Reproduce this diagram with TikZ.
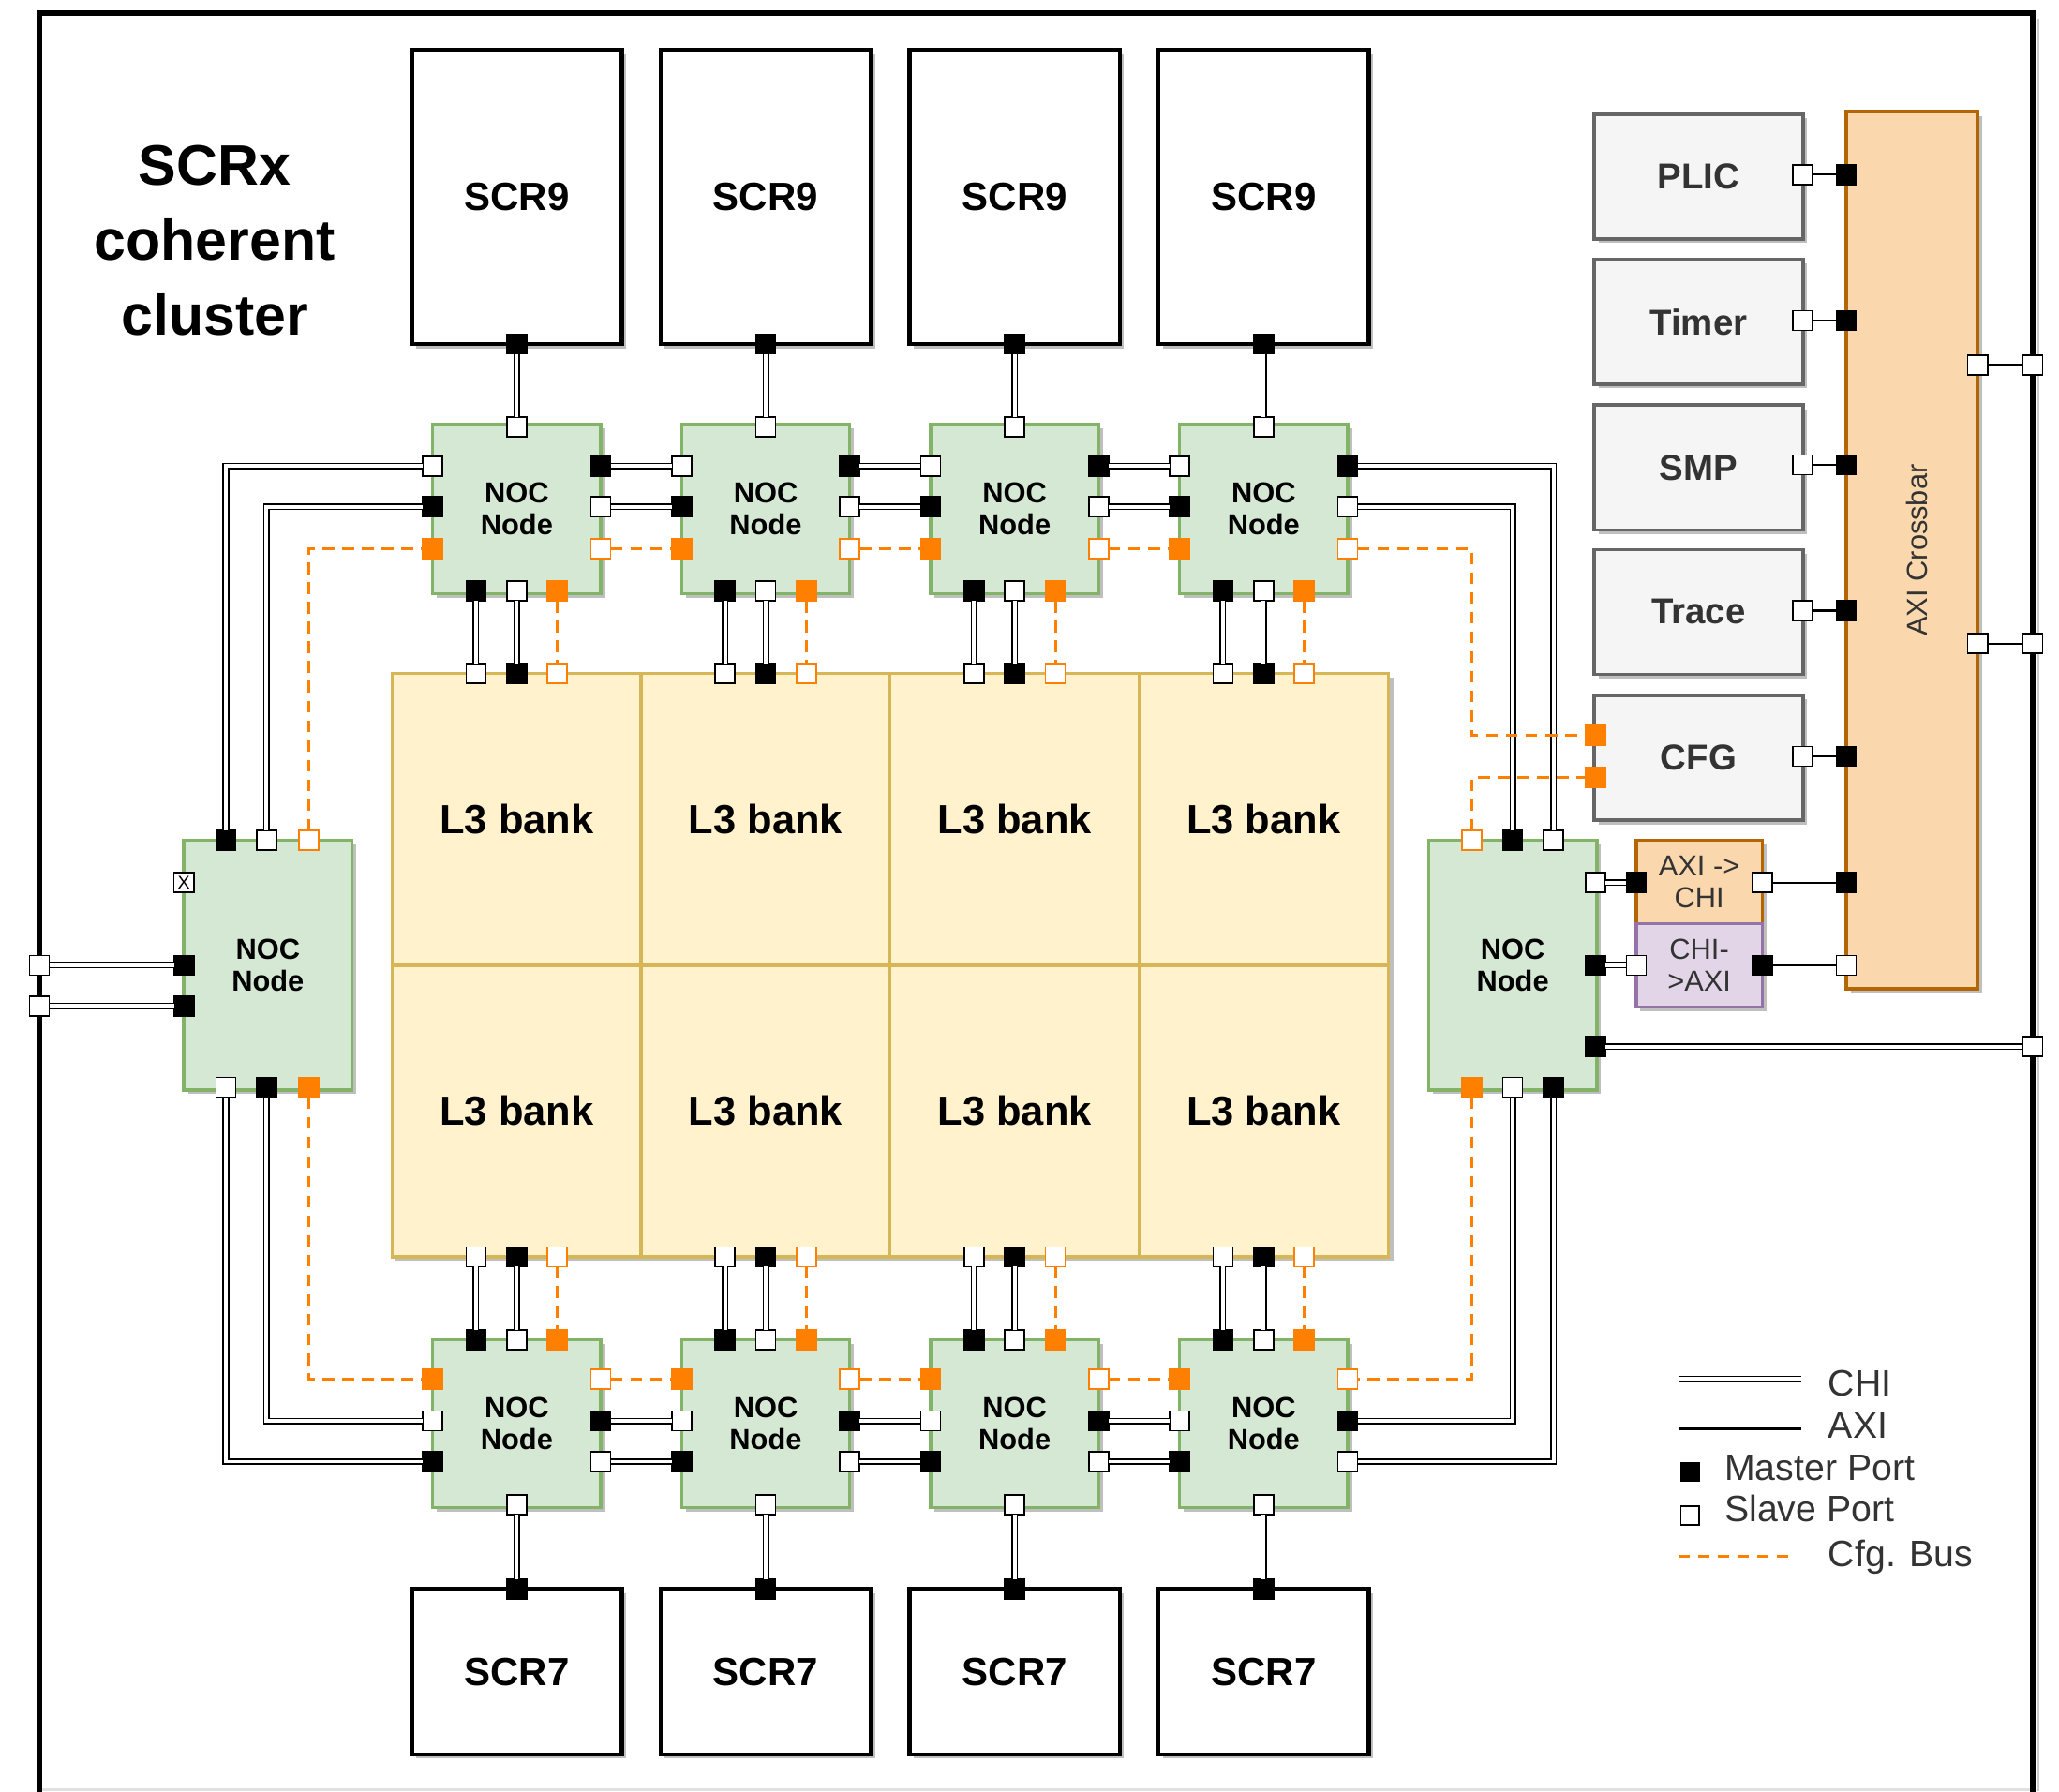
\documentclass[tikz,border=0pt]{standalone}
\usepackage{fontspec}
\setmainfont{Liberation Sans}
\usetikzlibrary{shadows}
\definecolor{nocfill}{HTML}{D5E8D4}
\definecolor{nocdraw}{HTML}{82B366}
\definecolor{lfill}{HTML}{FFF2CC}
\definecolor{ldraw}{HTML}{D6B656}
\definecolor{pfill}{HTML}{F5F5F5}
\definecolor{pdraw}{HTML}{666666}
\definecolor{ptext}{HTML}{333333}
\definecolor{xfill}{HTML}{FAD7AC}
\definecolor{xdraw}{HTML}{B46504}
\definecolor{cfill}{HTML}{E1D5E7}
\definecolor{cdraw}{HTML}{9673A6}
\definecolor{cfgor}{HTML}{FF8000}
\begin{document}
\begin{tikzpicture}[x=0.5pt,y=-0.5pt,
  port/.style={draw, line width=0.6pt, minimum size=7.5pt, inner sep=0pt, outer sep=0pt},
  mp/.style={port, fill=black},
  sp/.style={port, fill=white},
  omp/.style={port, draw=cfgor, fill=cfgor},
  osp/.style={port, draw=cfgor, fill=white},
  shad/.style={drop shadow={shadow xshift=1.6pt, shadow yshift=-1.6pt, opacity=0.25, fill=black}},
  scrbox/.style={draw, line width=1.6pt, fill=white, shad, inner sep=0pt, minimum width=80pt, font=\fontsize{15}{18}\selectfont\bfseries},
  nocbox/.style={draw=nocdraw, line width=1.2pt, fill=nocfill, shad, minimum width=64pt, align=center, inner sep=0pt, font=\fontsize{11}{12}\selectfont\bfseries},
  l3box/.style={draw=ldraw, line width=1.2pt, fill=lfill, minimum width=95pt, minimum height=111pt, inner sep=0pt, font=\fontsize{15.5}{18}\selectfont\bfseries},
  perbox/.style={draw=pdraw, line width=1.3pt, fill=pfill, shad, minimum width=79.5pt, minimum height=47.5pt, inner sep=0pt, text=ptext, font=\fontsize{13.7}{16}\selectfont\bfseries},
  convbox/.style={line width=1.2pt, shad, minimum width=48pt, minimum height=31.8pt, inner sep=0pt, align=center, text=ptext, font=\fontsize{11}{12}\selectfont},
  chi/.style={draw, double=white, double distance=1.4pt, line width=0.55pt},
  axi/.style={draw, line width=0.75pt},
  cfg/.style={draw=cfgor, line width=1pt, dash pattern=on 4.5pt off 3pt},
  legtext/.style={anchor=base west, inner sep=0pt, text=ptext, font=\fontsize{14}{16}\selectfont},
]
\useasboundingbox (0,0) rectangle (1568,1364);

% outer frame
\draw[black!20, line width=1.2pt] (1552,14) -- (1552,1364);
\draw[black!12, line width=1pt] (32,1363) -- (1548,1363);
\draw[line width=2pt] (30,1380) -- (30,10) -- (1548,10) -- (1548,1380);

% title
\node[align=center, inner sep=0pt, font=\fontsize{21.7}{28.5}\selectfont\bfseries] (title) at (163.5,183) {SCRx\\coherent\\cluster};

% L3 shadow
\fill[black, opacity=0.25] (301,516) rectangle (1061,960);

% boxes
\foreach \i in {1,...,4}{
  \pgfmathsetmacro{\cx}{393.5+189.6*(\i-1)}
  \node[scrbox, minimum height=112pt] (s9\i) at (\cx,150) {SCR9};
  \node[scrbox, minimum height=63pt] (s7\i) at (\cx,1273) {SCR7};
  \node[nocbox, minimum height=64.5pt] (t\i) at (\cx,387.5) {NOC\\Node};
  \node[nocbox, minimum height=64pt] (b\i) at (\cx,1084) {NOC\\Node};
  \node[l3box] (lu\i) at (\cx,624) {L3 bank};
  \node[l3box] (ld\i) at (\cx,846) {L3 bank};
}
\node[nocbox, minimum height=95pt] (ln) at (204,735) {NOC\\Node};
\node[nocbox, minimum height=95pt] (rn) at (1152,735) {NOC\\Node};

\node[draw=xdraw, fill=xfill, line width=1.2pt, shad, minimum width=50pt, minimum height=334pt, inner sep=0pt] (xb) at (1456,419) {};
\node[rotate=90, text=ptext, font=\fontsize{11}{12}\selectfont] (xbt) at (1460,419) {AXI Crossbar};

\node[perbox] (per1) at (1293.5,134.5) {PLIC};
\node[perbox] (per2) at (1293.5,245) {Timer};
\node[perbox] (per3) at (1293.5,356) {SMP};
\node[perbox] (per4) at (1293.5,466) {Trace};
\node[perbox] (per5) at (1293.5,577) {CFG};

\node[convbox, draw=xdraw, fill=xfill] (a2c) at (1294,671.5) {AXI ->\\CHI};
\node[convbox, draw=cdraw, fill=cfill] (c2a) at (1294,735) {CHI-\\>AXI};

% ports of the repeated blocks
\foreach \i in {1,...,4}{
  \pgfmathsetmacro{\cx}{393.5+189.6*(\i-1)}
  \node[mp] (s9\i-p) at (\cx,262) {};
  \node[mp] (s7\i-p) at (\cx,1210) {};
  % top NOC
  \node[sp] (t\i-t) at (\cx,325) {};
  \node[sp] (t\i-l1) at (\cx-64,355) {};
  \node[mp] (t\i-l2) at (\cx-64,386) {};
  \node[omp] (t\i-l3) at (\cx-64,418) {};
  \node[mp] (t\i-r1) at (\cx+64,355) {};
  \node[sp] (t\i-r2) at (\cx+64,386) {};
  \node[osp] (t\i-r3) at (\cx+64,418) {};
  \node[mp] (t\i-b1) at (\cx-31,450) {};
  \node[sp] (t\i-b2) at (\cx,450) {};
  \node[omp] (t\i-b3) at (\cx+31,450) {};
  % L3 ports
  \node[sp] (lu\i-t1) at (\cx-31,513) {};
  \node[mp] (lu\i-t2) at (\cx,513) {};
  \node[osp] (lu\i-t3) at (\cx+31,513) {};
  \node[sp] (ld\i-b1) at (\cx-31,957) {};
  \node[mp] (ld\i-b2) at (\cx,957) {};
  \node[osp] (ld\i-b3) at (\cx+31,957) {};
  % bottom NOC
  \node[mp] (b\i-t1) at (\cx-31,1020) {};
  \node[sp] (b\i-t2) at (\cx,1020) {};
  \node[omp] (b\i-t3) at (\cx+31,1020) {};
  \node[omp] (b\i-l1) at (\cx-64,1050) {};
  \node[sp] (b\i-l2) at (\cx-64,1082) {};
  \node[mp] (b\i-l3) at (\cx-64,1113) {};
  \node[osp] (b\i-r1) at (\cx+64,1050) {};
  \node[mp] (b\i-r2) at (\cx+64,1082) {};
  \node[sp] (b\i-r3) at (\cx+64,1113) {};
  \node[sp] (b\i-bt) at (\cx,1146) {};
}

% left NOC ports
\node[mp] (ln-t1) at (172,640) {};
\node[sp] (ln-t2) at (203,640) {};
\node[osp] (ln-t3) at (235,640) {};
\node[sp] (ln-b1) at (172,828) {};
\node[mp] (ln-b2) at (203,828) {};
\node[omp] (ln-b3) at (235,828) {};
\node[port, fill=white, minimum size=7.5pt, line width=0.6pt, font=\fontsize{7}{7}\selectfont] (ln-x) at (140,672) {X};
\node[mp] (ln-l2) at (140,735) {};
\node[mp] (ln-l3) at (140,766) {};

% right NOC ports
\node[osp] (rn-t1) at (1121,640) {};
\node[mp] (rn-t2) at (1152,640) {};
\node[sp] (rn-t3) at (1183,640) {};
\node[omp] (rn-b1) at (1121,828) {};
\node[sp] (rn-b2) at (1152,828) {};
\node[mp] (rn-b3) at (1183,828) {};
\node[sp] (rn-r1) at (1215,672) {};
\node[mp] (rn-r2) at (1215,735) {};
\node[mp] (rn-r3) at (1215,797) {};

% converter ports
\node[mp] (a2c-l) at (1246,672) {};
\node[sp] (a2c-r) at (1342,672) {};
\node[sp] (c2a-l) at (1246,735) {};
\node[mp] (c2a-r) at (1342,735) {};

% crossbar and peripheral ports
\foreach \k/\yy in {1/133,2/244,3/354,4/465,5/576}{
  \node[mp] (xb-l\k) at (1406,\yy) {};
  \node[sp] (per\k-p) at (1373,\yy) {};
}
\node[mp] (xb-l6) at (1406,672) {};
\node[sp] (xb-l7) at (1406,735) {};
\node[sp] (xb-r1) at (1506,278) {};
\node[sp] (xb-r2) at (1506,490) {};
\node[omp] (cfg-o1) at (1215,560) {};
\node[omp] (cfg-o2) at (1215,592) {};

% frame ports
\node[sp] (fl1) at (30,735) {};
\node[sp] (fl2) at (30,766) {};
\node[sp] (fr1) at (1548,278) {};
\node[sp] (fr2) at (1548,490) {};
\node[sp] (fr3) at (1548,797) {};

% connectors of repeated blocks
\foreach \i in {1,...,4}{
  \draw[chi] (s9\i-p) -- (t\i-t);
  \draw[chi] (s7\i-p) -- (b\i-bt);
  \draw[chi] (t\i-b1) -- (lu\i-t1);
  \draw[chi] (t\i-b2) -- (lu\i-t2);
  \draw[cfg] (t\i-b3) -- (lu\i-t3);
  \draw[chi] (ld\i-b1) -- (b\i-t1);
  \draw[chi] (ld\i-b2) -- (b\i-t2);
  \draw[cfg] (ld\i-b3) -- (b\i-t3);
}
\foreach \i/\j in {1/2,2/3,3/4}{
  \draw[chi] (t\i-r1) -- (t\j-l1);
  \draw[chi] (t\i-r2) -- (t\j-l2);
  \draw[cfg] (t\i-r3) -- (t\j-l3);
  \draw[cfg] (b\i-r1) -- (b\j-l1);
  \draw[chi] (b\i-r2) -- (b\j-l2);
  \draw[chi] (b\i-r3) -- (b\j-l3);
}

% left NOC connectors
\draw[chi] (ln-t1) |- (t1-l1);
\draw[chi] (ln-t2) |- (t1-l2);
\draw[cfg] (ln-t3) |- (t1-l3);
\draw[chi] (ln-b1) |- (b1-l3);
\draw[chi] (ln-b2) |- (b1-l2);
\draw[cfg] (ln-b3) |- (b1-l1);
\draw[chi] (fl1) -- (ln-l2);
\draw[chi] (fl2) -- (ln-l3);

% right NOC connectors
\draw[chi] (t4-r1) -| (rn-t3);
\draw[chi] (t4-r2) -| (rn-t2);
\draw[chi] (rn-b2) |- (b4-r2);
\draw[chi] (rn-b3) |- (b4-r3);
\draw[cfg] (rn-b1) |- (b4-r1);
\draw[cfg] (t4-r3) -| (rn-t1 |- cfg-o1) -- (cfg-o1);
\draw[cfg] (rn-t1) |- (cfg-o2);
\draw[chi] (rn-r1) -- (a2c-l);
\draw[chi] (rn-r2) -- (c2a-l);
\draw[chi] (rn-r3) -- (fr3);

% AXI connectors
\draw[axi] (a2c-r) -- (xb-l6);
\draw[axi] (c2a-r) -- (xb-l7);
\foreach \k in {1,...,5}{
  \draw[axi] (per\k-p) -- (xb-l\k);
}
\draw[axi] (xb-r1) -- (fr1);
\draw[axi] (xb-r2) -- (fr2);

% legend
\coordinate (lg1a) at (1278,1050); \coordinate (lg1b) at (1372,1050);
\coordinate (lg2a) at (1278,1088); \coordinate (lg2b) at (1372,1088);
\coordinate (lg3a) at (1278,1185); \coordinate (lg3b) at (1365,1185);
\draw[chi] (lg1a) -- (lg1b);
\draw[axi] (lg2a) -- (lg2b);
\draw[cfg] (lg3a) -- (lg3b);
\node[mp, minimum size=7pt] (lgm) at (1287,1121) {};
\node[sp, minimum size=7pt] (lgs) at (1287,1154) {};
\node[legtext] (lt1) at (1392,1063) {CHI};
\node[legtext] (lt2) at (1392,1095) {AXI};
\node[legtext] (lt3) at (1313,1127) {Master Port};
\node[legtext] (lt4) at (1313,1159) {Slave Port};
\node[legtext] (lt5) at (1392,1193) {Cfg. Bus};
\end{tikzpicture}
\end{document}
